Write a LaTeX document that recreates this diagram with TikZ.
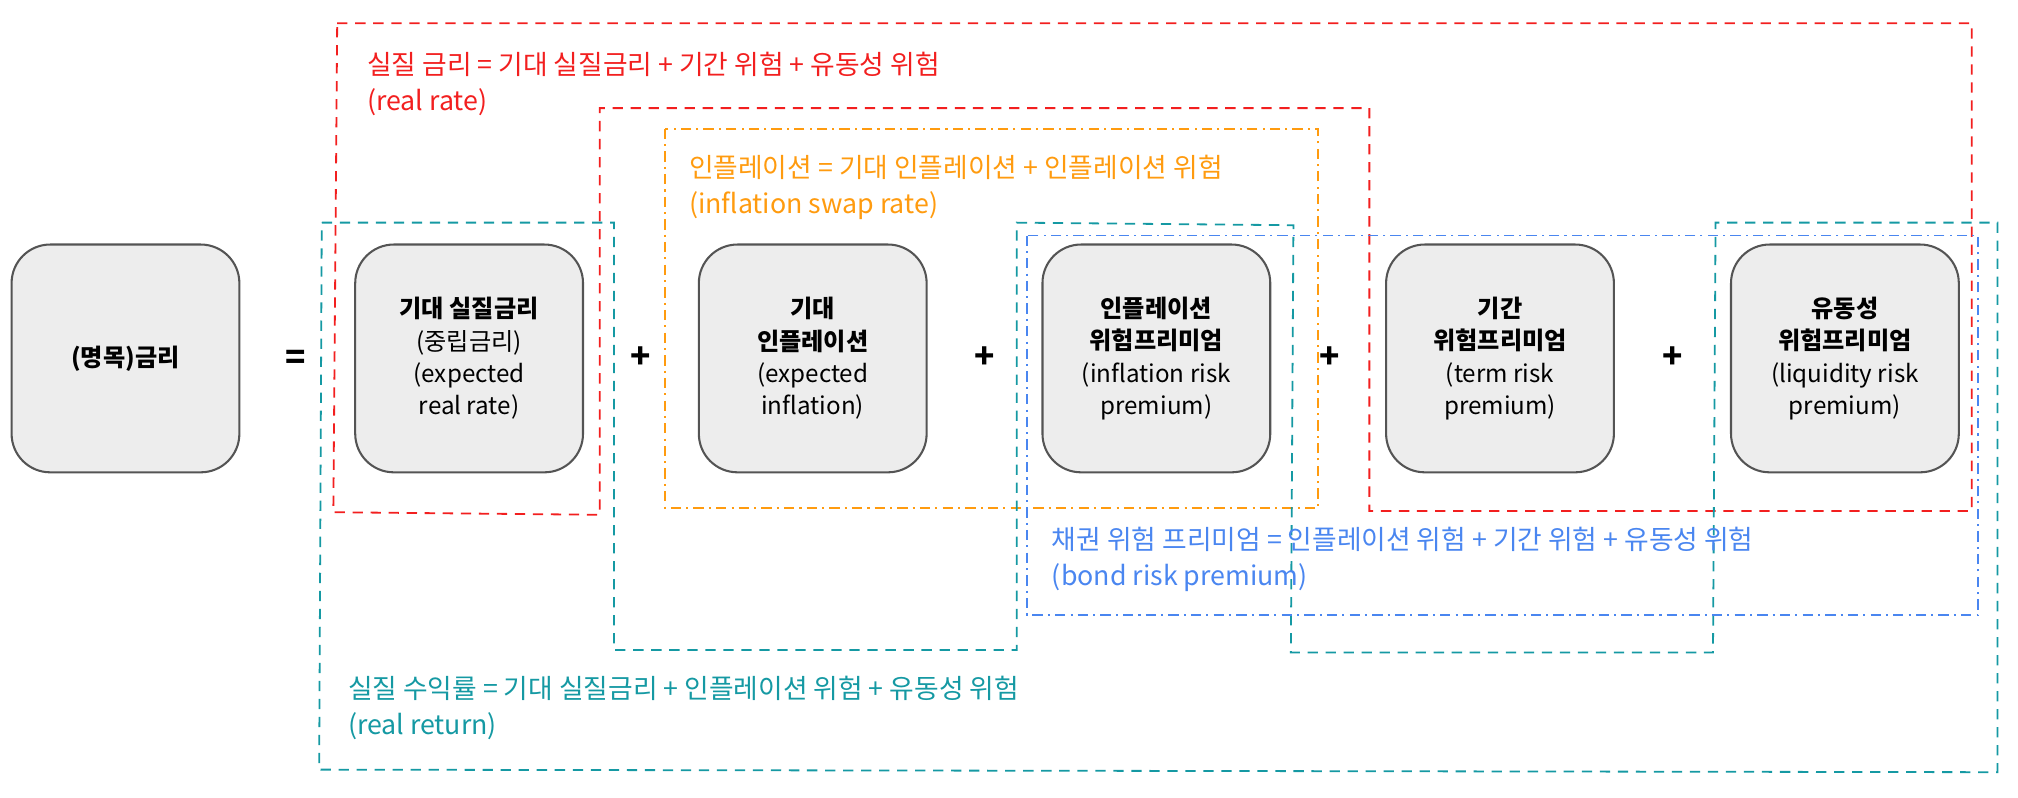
\documentclass[tikz,border=0pt]{standalone}
\usepackage{fontspec}
\setmainfont{Noto Sans CJK KR}
\begin{document}
\begin{tikzpicture}[x=0.5pt,y=-0.5pt,
  box/.style={draw=black!67,line width=0.8pt,fill=black!7,rounded corners=15pt,minimum width=88.5pt,minimum height=88.5pt,align=center,font=\fontsize{9.4}{12.6}\selectfont},
  op/.style={font=\fontsize{13}{13}\selectfont\bfseries},
  lab/.style={anchor=north west,align=left,font=\fontsize{10.4}{14}\selectfont,inner sep=0pt},
  red/.style={draw=redc,line width=0.7pt,dash pattern=on 4pt off 3pt},
  teal/.style={draw=tealc,line width=0.7pt,dash pattern=on 4pt off 3pt},
  ora/.style={draw=orac,line width=0.7pt,dash pattern=on 4pt off 2pt on 0.8pt off 2pt},
  blu/.style={draw=bluc,line width=0.7pt,dash pattern=on 4pt off 2pt on 0.8pt off 2pt}]
\definecolor{redc}{HTML}{F21F1F}
\definecolor{tealc}{HTML}{1599A3}
\definecolor{orac}{HTML}{FF9B0F}
\definecolor{bluc}{HTML}{4A86F0}
\useasboundingbox (0,0) rectangle (1568,620);
% groups
\draw[red] (262,18) -- (1532,18) -- (1532,397) -- (1064,397) -- (1064,84) -- (466,84) -- (466,400) -- (259,398) -- cycle;
\draw[ora] (517,100) rectangle (1024,395);
\draw[teal] (250,173) -- (477,173) -- (477,505) -- (790,505) -- (790,173) -- (1005,175) -- (1003,507) -- (1331,507) -- (1333,173) -- (1552,173) -- (1552,600) -- (248,598) -- cycle;
\draw[blu] (798,183) rectangle (1537,478);
% boxes
\node[box] (n) at (97.5,278.5) {\textbf{(명목)금리}};
\node[box] (a) at (364.5,278.5) {\textbf{기대 실질금리}\\(중립금리)\\(expected\\real rate)};
\node[box] (b) at (631.5,278.5) {\textbf{기대}\\\textbf{인플레이션}\\(expected\\inflation)};
\node[box] (c) at (898.5,278.5) {\textbf{인플레이션}\\\textbf{위험프리미엄}\\(inflation risk\\premium)};
\node[box] (d) at (1165.5,278.5) {\textbf{기간}\\\textbf{위험프리미엄}\\(term risk\\premium)};
\node[box] (e) at (1433.5,278.5) {\textbf{유동성}\\\textbf{위험프리미엄}\\(liquidity risk\\premium)};
\node[op] (eq) at (230,280) {=};
\node[op] (p1) at (498,278) {+};
\node[op] (p2) at (765,278) {+};
\node[op] (p3) at (1033,278) {+};
\node[op] (p4) at (1300,278) {+};
% labels
\node[lab,text=redc] (lr) at (285,40) {실질 금리 = 기대 실질금리 + 기간 위험 + 유동성 위험\\(real rate)};
\node[lab,text=orac] (lo) at (535,120) {인플레이션 = 기대 인플레이션 + 인플레이션 위험\\(inflation swap rate)};
\node[lab,text=bluc] (lb) at (817,409) {채권 위험 프리미엄 = 인플레이션 위험 + 기간 위험 + 유동성 위험\\(bond risk premium)};
\node[lab,text=tealc] (lt) at (270,525) {실질 수익률 = 기대 실질금리 + 인플레이션 위험 + 유동성 위험\\(real return)};
\end{tikzpicture}
\end{document}
